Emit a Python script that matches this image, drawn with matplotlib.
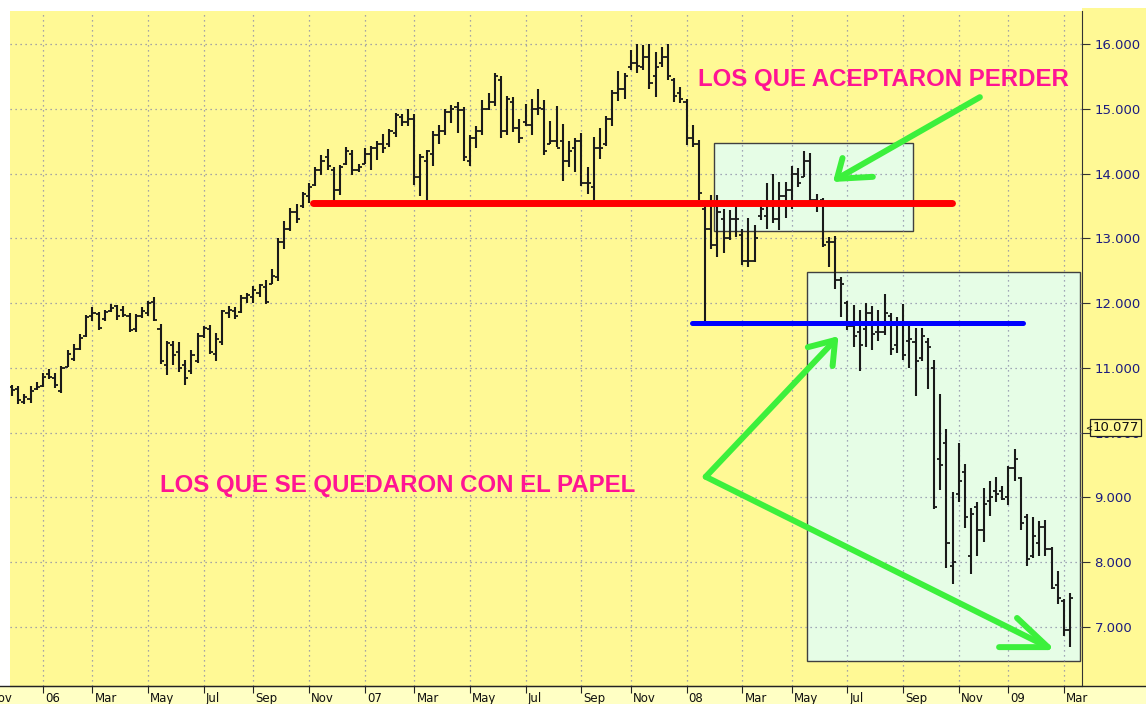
import matplotlib.pyplot as plt
import matplotlib.patches as mpatches
import pandas as pd

# weekly bars (index values in thousands, labels shown as 16.000 etc.)
highs = [10.74, 10.72, 10.59, 10.72, 10.79, 10.92, 10.98, 10.92, 11.03, 11.28,
         11.37, 11.53, 11.81, 11.94, 11.86, 11.90, 11.99, 11.97, 11.96, 11.85,
         11.84, 11.94, 12.03, 12.09, 11.68, 11.41, 11.42, 11.40, 11.12, 11.28,
         11.54, 11.65, 11.67, 11.54, 11.90, 11.95, 11.94, 12.13, 12.16, 12.26,
         12.30, 12.36, 12.52, 13.00, 13.27, 13.47, 13.53, 13.71, 13.86, 14.10,
         14.29, 14.38, 14.10, 14.14, 14.41, 14.37, 14.15, 14.39, 14.43, 14.50,
         14.61, 14.69, 14.94, 14.92, 14.99, 14.92, 14.31, 14.37, 14.65, 14.75,
         14.99, 15.06, 15.10, 15.03, 14.60, 14.73, 15.14, 15.24, 15.55, 15.50,
         15.20, 15.19, 14.85, 15.08, 15.15, 15.31, 15.14, 14.81, 15.04, 14.77,
         14.50, 14.55, 14.62, 14.10, 14.57, 14.71, 14.89, 15.29, 15.59, 15.56,
         15.91, 16.00, 15.99, 16.00, 15.87, 15.95, 16.00, 15.47, 15.34, 15.15,
         14.75, 14.52, 13.50, 13.67, 13.67, 13.45, 13.44, 13.58, 13.14, 13.32,
         13.20, 13.59, 13.85, 14.00, 13.87, 13.87, 14.11, 14.08, 14.35, 14.32,
         13.69, 13.63, 13.02, 13.04, 12.41, 12.03, 11.97, 11.90, 12.00, 11.96,
         11.90, 12.14, 11.85, 11.79, 11.99, 11.64, 11.61, 11.61, 11.46, 11.13,
         10.60, 10.05, 9.08, 9.84, 9.51, 8.84, 8.93, 9.15, 9.26, 9.32,
         9.17, 9.48, 9.75, 9.32, 8.75, 8.70, 8.63, 8.65, 8.23, 7.87,
         7.43, 7.53]
lows = [10.56, 10.45, 10.44, 10.46, 10.66, 10.71, 10.83, 10.69, 10.62, 11.02,
        11.10, 11.28, 11.48, 11.72, 11.58, 11.72, 11.87, 11.74, 11.79, 11.56,
        11.56, 11.77, 11.80, 11.72, 11.06, 10.89, 11.05, 10.94, 10.74, 10.91,
        11.08, 11.46, 11.22, 11.11, 11.36, 11.77, 11.76, 11.85, 12.00, 12.00,
        12.10, 11.98, 12.29, 12.34, 12.83, 13.11, 13.24, 13.47, 13.55, 13.81,
        13.98, 14.06, 13.57, 13.67, 14.14, 13.98, 14.03, 14.15, 14.05, 14.21,
        14.32, 14.41, 14.57, 14.73, 14.73, 13.83, 13.65, 13.57, 14.11, 14.45,
        14.60, 14.78, 14.63, 14.19, 14.11, 14.40, 14.60, 14.98, 15.04, 14.55,
        14.60, 14.64, 14.47, 14.73, 14.59, 14.91, 14.28, 14.45, 14.41, 13.88,
        14.10, 14.02, 13.81, 13.69, 13.52, 14.22, 14.42, 14.74, 15.12, 15.15,
        15.60, 15.56, 15.60, 15.30, 15.19, 15.65, 15.44, 15.10, 15.09, 14.44,
        14.41, 13.60, 11.72, 12.83, 12.72, 12.77, 12.98, 13.02, 12.59, 12.56,
        12.63, 13.28, 13.15, 13.24, 13.13, 13.32, 13.45, 13.79, 13.94, 13.58,
        13.41, 12.87, 12.56, 12.22, 11.79, 11.58, 11.33, 10.95, 11.33, 11.28,
        11.41, 11.51, 11.20, 11.23, 11.12, 11.00, 10.56, 11.10, 10.67, 8.82,
        9.12, 7.91, 7.66, 8.93, 8.53, 7.82, 8.10, 8.31, 8.72, 8.93,
        8.96, 8.89, 9.26, 8.50, 7.95, 8.06, 8.10, 8.10, 7.58, 7.36,
        6.86, 6.69]
opens = [10.70, 10.68, 10.48, 10.52, 10.68, 10.72, 10.90, 10.85, 10.64, 11.02,
         11.14, 11.30, 11.50, 11.80, 11.84, 11.75, 11.88, 11.95, 11.90, 11.80,
         11.60, 11.80, 11.85, 12.02, 11.60, 11.05, 11.35, 11.25, 11.05, 10.95,
         11.10, 11.50, 11.60, 11.22, 11.40, 11.85, 11.88, 11.86, 12.08, 12.10,
         12.15, 12.25, 12.30, 12.40, 12.95, 13.15, 13.40, 13.50, 13.65, 13.82,
         14.05, 14.25, 14.05, 13.75, 14.15, 14.30, 14.05, 14.15, 14.30, 14.40,
         14.45, 14.45, 14.62, 14.88, 14.80, 14.85, 13.95, 14.20, 14.30, 14.60,
         14.65, 14.95, 15.03, 14.98, 14.20, 14.55, 14.65, 15.00, 15.10, 15.45,
         14.65, 15.10, 14.70, 14.80, 14.75, 15.00, 15.00, 14.45, 14.50, 14.50,
         14.20, 14.40, 14.50, 13.85, 13.80, 14.40, 14.45, 14.85, 15.25, 15.30,
         15.65, 15.70, 15.65, 15.80, 15.50, 15.70, 15.80, 15.45, 15.25, 15.10,
         14.55, 14.45, 13.45, 13.15, 12.90, 13.30, 13.00, 13.30, 13.05, 12.65,
         12.65, 13.35, 13.35, 13.50, 13.30, 13.65, 13.75, 14.00, 13.95, 14.20,
         13.60, 13.60, 12.95, 12.95, 12.35, 12.00, 11.65, 11.55, 11.60, 11.85,
         11.55, 11.55, 11.80, 11.35, 11.70, 11.42, 11.40, 11.15, 11.40, 11.00,
         9.60, 9.84, 7.95, 9.05, 9.40, 8.10, 8.85, 8.50, 8.95, 9.10,
         9.10, 9.00, 9.45, 9.30, 8.70, 8.10, 8.30, 8.55, 8.20, 7.65,
         7.40, 6.95]
closes = [10.66, 10.50, 10.55, 10.64, 10.70, 10.86, 10.86, 10.74, 11.00, 11.22,
          11.30, 11.46, 11.79, 11.85, 11.62, 11.86, 11.93, 11.80, 11.82, 11.58,
          11.80, 11.88, 12.00, 11.74, 11.10, 11.38, 11.20, 11.00, 10.85, 11.20,
          11.50, 11.62, 11.25, 11.45, 11.88, 11.90, 11.80, 12.08, 12.12, 12.20,
          12.28, 12.02, 12.42, 12.95, 13.15, 13.40, 13.30, 13.68, 13.80, 14.05,
          14.20, 14.12, 13.75, 14.10, 14.35, 14.05, 14.10, 14.30, 14.40, 14.45,
          14.40, 14.65, 14.90, 14.80, 14.85, 13.95, 14.25, 14.35, 14.60, 14.65,
          14.95, 15.00, 14.98, 14.25, 14.55, 14.65, 15.00, 15.10, 15.50, 14.65,
          15.15, 14.70, 14.55, 14.75, 15.00, 15.02, 14.35, 14.50, 14.40, 14.20,
          14.35, 14.50, 13.85, 13.85, 14.40, 14.40, 14.85, 15.25, 15.30, 15.50,
          15.70, 15.66, 15.80, 15.40, 15.65, 15.80, 15.50, 15.20, 15.15, 14.55,
          14.45, 13.70, 13.15, 12.90, 13.40, 13.00, 13.30, 13.30, 12.65, 12.65,
          13.00, 13.45, 13.50, 13.30, 13.65, 13.75, 14.00, 13.85, 14.20, 13.60,
          13.55, 12.90, 12.95, 12.35, 12.30, 11.65, 11.50, 11.35, 11.85, 11.52,
          11.55, 11.85, 11.30, 11.70, 11.20, 11.45, 11.10, 11.50, 11.33, 8.85,
          9.50, 8.30, 8.00, 9.25, 8.70, 8.75, 8.50, 8.90, 9.00, 9.05,
          8.98, 9.45, 9.60, 8.60, 8.05, 8.40, 8.55, 8.20, 7.60, 7.45,
          6.95, 7.45]

# week-ending Fridays; the extra first dates are only used for the Nov 2005 tick
dates = pd.date_range('2005-11-04', periods=176, freq='W-FRI')
first_bar = 4
last_price = 10.077

# annotations (bar index, price)
red_x = [48.6, 151.9]
red_y = [13.55, 13.55]
blue_x = [109.9, 163.3]
blue_y = [11.69, 11.69]
box1 = (113.4, 13.11, 32.2, 1.36)
box2 = (128.4, 6.48, 44.1, 6.00)
arrow1 = [(156.4, 15.18), (133.3, 13.92)]
arrow1_head = [(134.2, 14.24), (133.3, 13.92), (139.1, 13.95)]
arrow2 = [(112.1, 9.32), (133.0, 11.43)]
arrow2_head = [(132.6, 11.03), (133.0, 11.43), (128.6, 11.32)]
arrow3 = [(112.1, 9.32), (167.4, 6.69)]
arrow3_head = [(162.4, 7.14), (167.4, 6.69), (159.5, 6.69)]

yellow = '#FFF995'
W, H = 1146, 704
fig = plt.figure(figsize=(W / 100, H / 100), dpi=100)
fig.patch.set_facecolor('white')

# right price panel and bottom date strip (behind the axes)
fig.patches.append(mpatches.Rectangle((1082 / W, 18 / H), 64 / W, 678 / H, transform=fig.transFigure,
                                      facecolor=yellow, edgecolor='none', zorder=-5))
fig.patches.append(mpatches.Rectangle((0, 0), 1, 18 / H, transform=fig.transFigure,
                                      facecolor='#FFFFC4', edgecolor='none', zorder=-5))

ax = fig.add_axes([10 / W, 18 / H, 1072 / W, 675 / H])
ax.set_facecolor(yellow)

xs = list(range(len(highs)))
ax.vlines(xs, lows, highs, color='#1a1a1a', lw=1.5, zorder=3)
ax.hlines(opens, [x - 0.5 for x in xs], xs, color='#1a1a1a', lw=1.3, zorder=3)
ax.hlines(closes, xs, [x + 0.5 for x in xs], color='#1a1a1a', lw=1.3, zorder=3)

# month ticks: first bar of every odd month
tick_pos = []
tick_lab = []
prev = None
for k, d in enumerate(dates):
    if d.month != prev and d.month % 2 == 1:
        tick_pos.append(k - first_bar)
        tick_lab.append(d.strftime('%y') if d.month == 1 else d.strftime('%b'))
    prev = d.month

x0, x1 = -0.32, 172.9
ax.set_xticks(tick_pos)
ax.set_xlim(x0, x1)
ax.set_ylim(6.09, 16.51)
ax.tick_params(axis='x', length=0, labelbottom=False)
ax.yaxis.tick_right()
ax.set_yticks(range(7, 17))
ax.set_yticklabels(['%.3f' % v for v in range(7, 17)])
ax.tick_params(axis='y', direction='out', length=6, width=0.8, color='#333333',
               labelcolor='#1c1c80', labelsize=9.5, pad=3)
ax.set_axisbelow('line')
ax.grid(True, linestyle=(0, (1, 3)), color='#8a8aa8', lw=0.9)
for s in ['top', 'left']:
    ax.spines[s].set_visible(False)
ax.spines['right'].set_color('#333333')
ax.spines['bottom'].set_color('#222222')

# boxes
for bx in [box1, box2]:
    ax.add_patch(mpatches.Rectangle(bx[:2], bx[2], bx[3], facecolor='#E6FDE6',
                                    edgecolor='#404040', lw=1, zorder=1))

ax.plot(red_x, red_y, color='#FF0000', lw=5, solid_capstyle='round', zorder=4)
ax.plot(blue_x, blue_y, color='#0000FF', lw=3.6, solid_capstyle='round', zorder=4)

green = '#3CF03C'
for seg in [arrow1, arrow1_head, arrow2, arrow2_head, arrow3, arrow3_head]:
    ax.plot([p[0] for p in seg], [p[1] for p in seg], color=green, lw=4.3,
            solid_capstyle='round', solid_joinstyle='round', zorder=5)

ax.text(110.8, 15.46, 'LOS QUE ACEPTARON PERDER', color='#FF1493', fontsize=17.3,
        fontweight='bold', family='Liberation Sans', ha='left', va='center', zorder=6)
ax.text(23.9, 9.18, 'LOS QUE SE QUEDARON CON EL PAPEL', color='#FF1493', fontsize=17.3,
        fontweight='bold', family='Liberation Sans', ha='left', va='center', zorder=6)

# last price marker on the price scale (sits over the 10.000 label like the original)
ax.text(1.0095, last_price, '%.3f' % last_price, transform=ax.get_yaxis_transform(),
        ha='left', va='center', fontsize=9.5, color='#101010', clip_on=False, zorder=7,
        bbox=dict(boxstyle='square,pad=0.15', facecolor=yellow, edgecolor='#222222', lw=0.9))
ax.text(1.003, last_price, '<', transform=ax.get_yaxis_transform(), ha='left', va='center',
        fontsize=6, color='#101010', clip_on=False, zorder=7)

# date strip labels: full-width strip sharing the bar scale of the main axes
per_px = (x1 - x0) / 1072
ax2 = fig.add_axes([0, 0, 1, 18 / H])
ax2.set_xlim(x0 - 10 * per_px, x0 + (W - 10) * per_px)
ax2.set_ylim(0, 1)
ax2.axis('off')
ax2.vlines(tick_pos, 0.6, 1.0, color='#222222', lw=0.8)
for p, lab in zip(tick_pos, tick_lab):
    ax2.text(p + 0.35, 0.3, lab, fontsize=8.5, color='#101010', ha='left', va='center', clip_on=True)

fig.add_artist(plt.Line2D([0, 1], [18 / H, 18 / H], transform=fig.transFigure, color='#222222', lw=1))

fig.savefig('out.png', dpi=100)
